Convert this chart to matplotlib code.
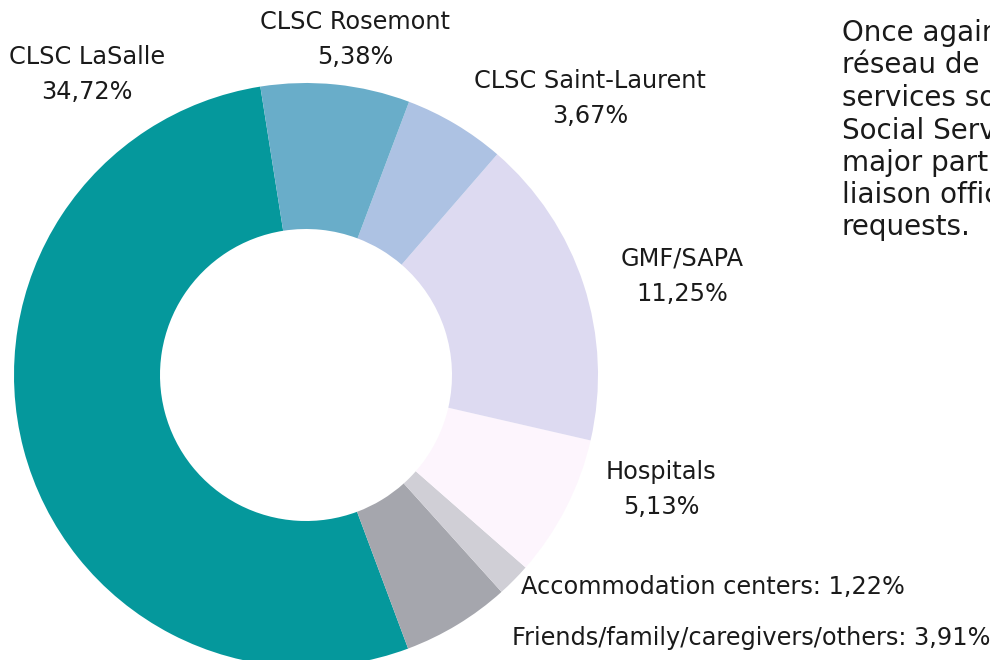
import matplotlib
matplotlib.use("Agg")
import matplotlib.pyplot as plt

# ---- data ----
categories = ["CLSC LaSalle", "Friends/family/caregivers/others", "Accommodation centers",
              "Hospitals", "GMF/SAPA", "CLSC Saint-Laurent", "CLSC Rosemont"]
values = [34.72, 3.91, 1.22, 5.13, 11.25, 3.67, 5.38]
value_labels = ["34,72%", "3,91%", "1,22%", "5,13%", "11,25%", "3,67%", "5,38%"]
colors = ["#05989c", "#a5a6ad", "#d0cfd6", "#fdf5fd", "#dddaf1", "#adc2e3", "#69adc9"]

side_text = ["Once again, the", "réseau de la santé et des", "services sociaux (Health and",
             "Social Services network) is a", "major partner, with the",
             "liaison officers receiving", "requests."]

FONT = ["DejaVu Sans"]
plt.rcParams['font.family'] = FONT

W, H = 990, 660
fig = plt.figure(figsize=(W / 100, H / 100), dpi=100)
ax = fig.add_axes([0, 0, 1, 1])
ax.set_xlim(0, W)
ax.set_ylim(0, H)
ax.set_aspect("equal")
ax.axis("off")

cx, cy, R = 306, H - 375, 292
ax.pie(values, colors=colors, startangle=99, counterclock=True,
       center=(cx, cy), radius=R, frame=True,
       wedgeprops=dict(width=R * 0.5, linewidth=0))
ax.set_xlim(0, W)
ax.set_ylim(0, H)
ax.axis("off")

# label layout (pixel coords from top)
two_line = {
    "CLSC LaSalle": (87, 57),
    "CLSC Rosemont": (355, 22),
    "CLSC Saint-Laurent": (590, 81),
    "GMF/SAPA": (682, 259),
    "Hospitals": (661, 472),
}
one_line = {
    "Accommodation centers": (521, 587),
    "Friends/family/caregivers/others": (512, 638),
}
fs = 17.3
txtc = "#1a1a1a"
for cat, vl in zip(categories, value_labels):
    if cat in two_line:
        x, y = two_line[cat]
        ax.text(x, H - y, cat, ha="center", va="center", fontsize=fs, color=txtc)
        ax.text(x, H - y - 35, vl, ha="center", va="center", fontsize=fs, color=txtc)
    else:
        x, y = one_line[cat]
        ax.text(x, H - y, f"{cat}: {vl}", ha="left", va="center", fontsize=fs, color=txtc)

for i, line in enumerate(side_text):
    ax.text(842, H - 33 - i * 32.4, line, ha="left", va="center", fontsize=20, color=txtc)

fig.savefig("out.png", dpi=100)
